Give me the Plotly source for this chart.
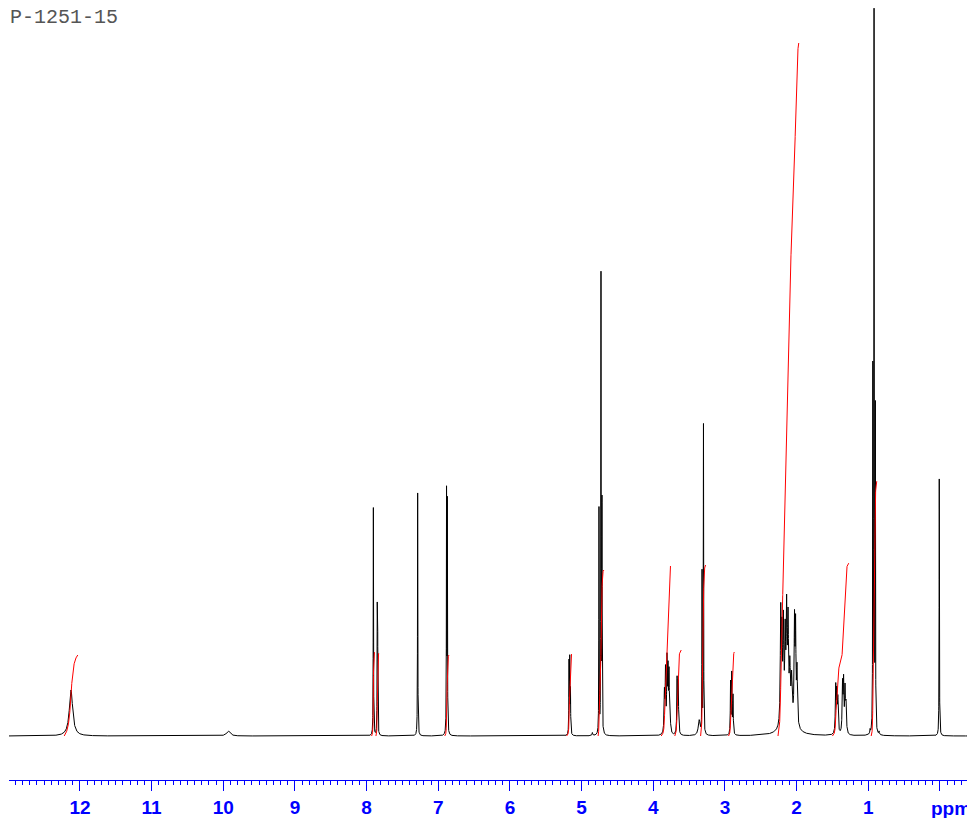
import numpy as np
import plotly.graph_objects as go

# ---- data (ppm, height above baseline, half width) ----
peak_ppm = [12.125, 9.93,
            7.906, 7.852, 7.846,
            7.288,
            6.885, 6.874,
            5.176, 5.166, 5.156,
            4.850, 4.758, 4.730, 4.716,
            3.845, 3.830, 3.809, 3.795, 3.781, 3.768,
            3.668, 3.652,
            3.360, 3.320, 3.300,
            2.922, 2.905, 2.888,
            2.222, 2.205, 2.185, 2.160, 2.140, 2.120, 2.095, 2.070, 2.030, 2.015, 1.995, 2.110,
            1.455, 1.440, 1.425, 1.360, 1.345, 1.325, 1.310,
            0.975, 0.937, 0.920, 0.902, 0.850,
            0.010]
peak_height = [46, 5,
               228, 118, 105,
               243,
               239, 228,
               70, 72, 42,
               3, 225, 456, 226,
               40, 60, 70, 58, 55, 25,
               55, 52,
               15, 160, 309,
               52, 60, 38,
               112, 80, 95, 78, 100, 88, 45, 38, 98, 92, 55, 20,
               46, 38, 33, 48, 50, 43, 28,
               4, 358, 714, 320, 3,
               257]
peak_hwhm = [0.028, 0.03,
             0.0025, 0.0025, 0.0025,
             0.0025,
             0.0025, 0.0025,
             0.003, 0.003, 0.003,
             0.005, 0.0025, 0.0025, 0.0025,
             0.006, 0.005, 0.005, 0.005, 0.005, 0.006,
             0.005, 0.005,
             0.015, 0.0025, 0.0025,
             0.004, 0.004, 0.004,
             0.007, 0.006, 0.007, 0.007, 0.007, 0.007, 0.008, 0.008, 0.006, 0.006, 0.007, 0.08,
             0.006, 0.006, 0.006, 0.006, 0.006, 0.006, 0.006,
             0.004, 0.0025, 0.0025, 0.0025, 0.004,
             0.0025]

# integral regions (start ppm, end ppm, final height)
int_start = [12.22, 7.93, 7.87, 6.91, 5.21, 4.77, 3.89, 3.70, 3.34, 2.95, 2.26, 1.50, 0.96]
int_end = [12.03, 7.89, 7.83, 6.85, 5.14, 4.69, 3.76, 3.61, 3.27, 2.87, 1.97, 1.27, 0.88]
int_height = [81, 84, 83, 81, 82, 166, 170, 86, 171, 84, 693, 173, 255]

tick_vals = [12, 11, 10, 9, 8, 7, 6, 5, 4, 3, 2, 1, 0]
tick_text = ["12", "11", "10", "9", "8", "7", "6", "5", "4", "3", "2", "1", ""]

title_text = "P-1251-15"
unit_text = "ppm"

# ---- build spectrum ----
ppm = np.arange(13.0, -0.38, -0.0005)
spec = np.zeros_like(ppm)
for p, h, w in zip(peak_ppm, peak_height, peak_hwhm):
    spec += h / (1.0 + ((ppm - p) / w) ** 2)

# ---- integrals ----
ix, iy = [], []
for a, b, h in zip(int_start, int_end, int_height):
    m = (ppm <= a) & (ppm >= b)
    seg = np.cumsum(spec[m])
    seg = seg - seg[0]
    seg = seg / seg[-1] * h
    ix += list(ppm[m]) + [None]
    iy += list(seg) + [None]

fig = go.Figure()
fig.add_trace(go.Scatter(x=ppm, y=spec, mode="lines",
                         line=dict(color="black", width=1), hoverinfo="skip"))
fig.add_trace(go.Scatter(x=ix, y=iy, mode="lines", connectgaps=False,
                         line=dict(color="#ff0000", width=1), hoverinfo="skip"))

fig.update_layout(
    width=967, height=818,
    margin=dict(l=9, r=0, t=0, b=38),
    paper_bgcolor="white", plot_bgcolor="white",
    showlegend=False,
    xaxis=dict(range=[12.99, -0.377], showgrid=False, zeroline=False,
               showline=True, linecolor="#0000ff", linewidth=1,
               ticks="outside", ticklen=10, tickwidth=1, tickcolor="#0000ff",
               tickvals=tick_vals, ticktext=tick_text,
               tickfont=dict(family="Liberation Sans, Arial", size=19,
                             color="#0000ff", weight="bold"),
               minor=dict(dtick=0.1, ticks="outside", ticklen=4,
                          tickcolor="#0000ff", tickwidth=1, showgrid=False)),
    yaxis=dict(range=[-44, 736], visible=False, showgrid=False, zeroline=False),
)

pw, ph = 967 - 9, 818 - 38
fig.add_annotation(text=title_text, xref="paper", yref="paper",
                   x=(8 - 9) / pw, y=(780 - 17) / ph, xanchor="left", yanchor="middle",
                   showarrow=False,
                   font=dict(family="Liberation Mono, Courier New", size=20, color="#555555"))
fig.add_annotation(text=unit_text, xref="paper", yref="paper",
                   x=(951 - 9) / pw, y=(780 - 808) / ph, xanchor="center", yanchor="middle",
                   showarrow=False,
                   font=dict(family="Liberation Sans, Arial", size=19, color="#0000ff", weight="bold"))

fig.write_html("out.html")
